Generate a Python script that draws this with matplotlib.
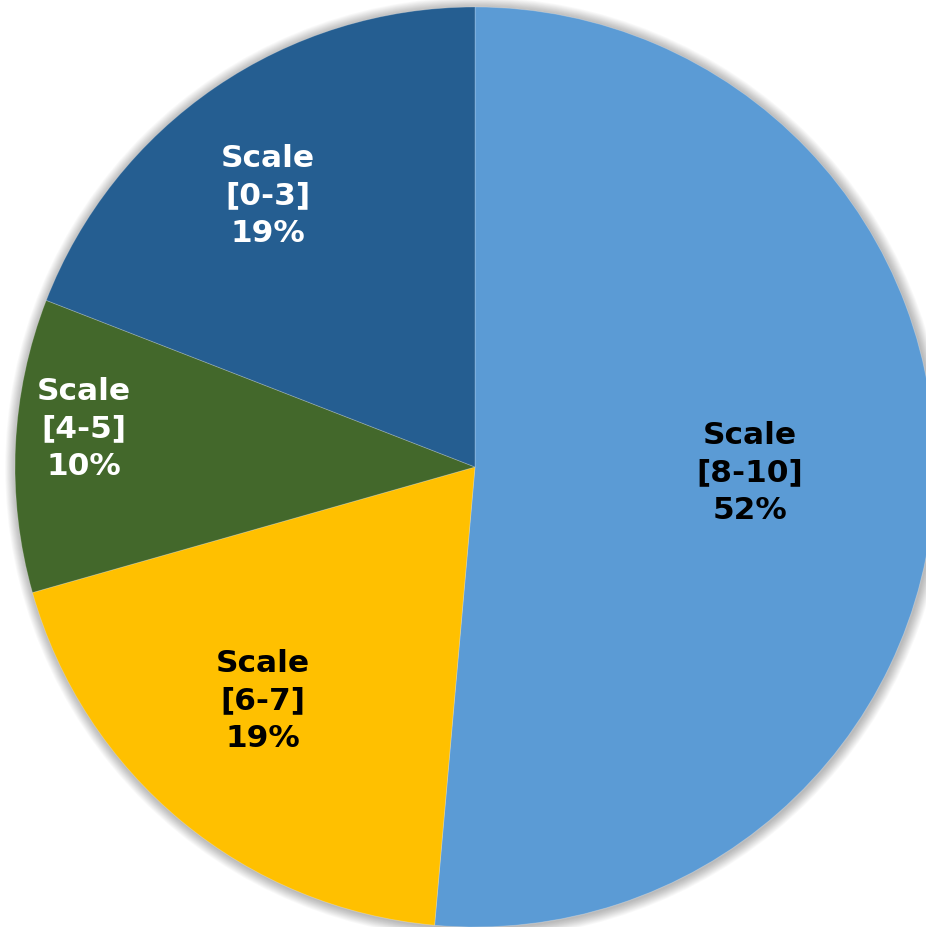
import numpy as np
import matplotlib
matplotlib.use("Agg")
import matplotlib.pyplot as plt
from matplotlib.patches import Circle

categories = ["[8-10]", "[6-7]", "[4-5]", "[0-3]"]
values = [51.4, 19.2, 10.3, 19.1]
pct_labels = ["52%", "19%", "10%", "19%"]
colors = ["#5B9BD5", "#FFC000", "#43682B", "#255E91"]
text_colors = ["black", "black", "white", "white"]
label_dist = [0.598, 0.687, 0.854, 0.741]
label_angle_offset = [1.3, -2.6, -2.85, 3.0]

W, H = 926, 927
fig = plt.figure(figsize=(W / 100, H / 100), dpi=100)
ax = fig.add_axes([0, 0, 1, 1])

cx, cy, R = 475, H - 467, 460

# soft shadow
for k in range(12, 0, -1):
    ax.add_patch(Circle((cx + 1, cy - 1), R + k * 0.9, color="black",
                        alpha=0.025, lw=0, zorder=0))

wedges, _ = ax.pie(values, colors=colors, startangle=90, counterclock=False,
                   center=(cx, cy), radius=R, frame=True,
                   wedgeprops=dict(linewidth=0.6, edgecolor=(1, 1, 1, 0.25)))
ax.set_xlim(0, W)
ax.set_ylim(0, H)
ax.set_aspect("auto")
ax.axis("off")

for w, cat, pct, tc, d, off in zip(wedges, categories, pct_labels, text_colors,
                                   label_dist, label_angle_offset):
    mid = np.deg2rad((w.theta1 + w.theta2) / 2 + off)
    x = cx + d * R * np.cos(mid)
    y = cy + d * R * np.sin(mid)
    ax.text(x, y, f"Scale\n{cat}\n{pct}", ha="center", va="center",
            multialignment="center", fontsize=22.5, fontweight="bold",
            color=tc, family="DejaVu Sans", linespacing=1.37)

fig.savefig("out.png", dpi=100)
